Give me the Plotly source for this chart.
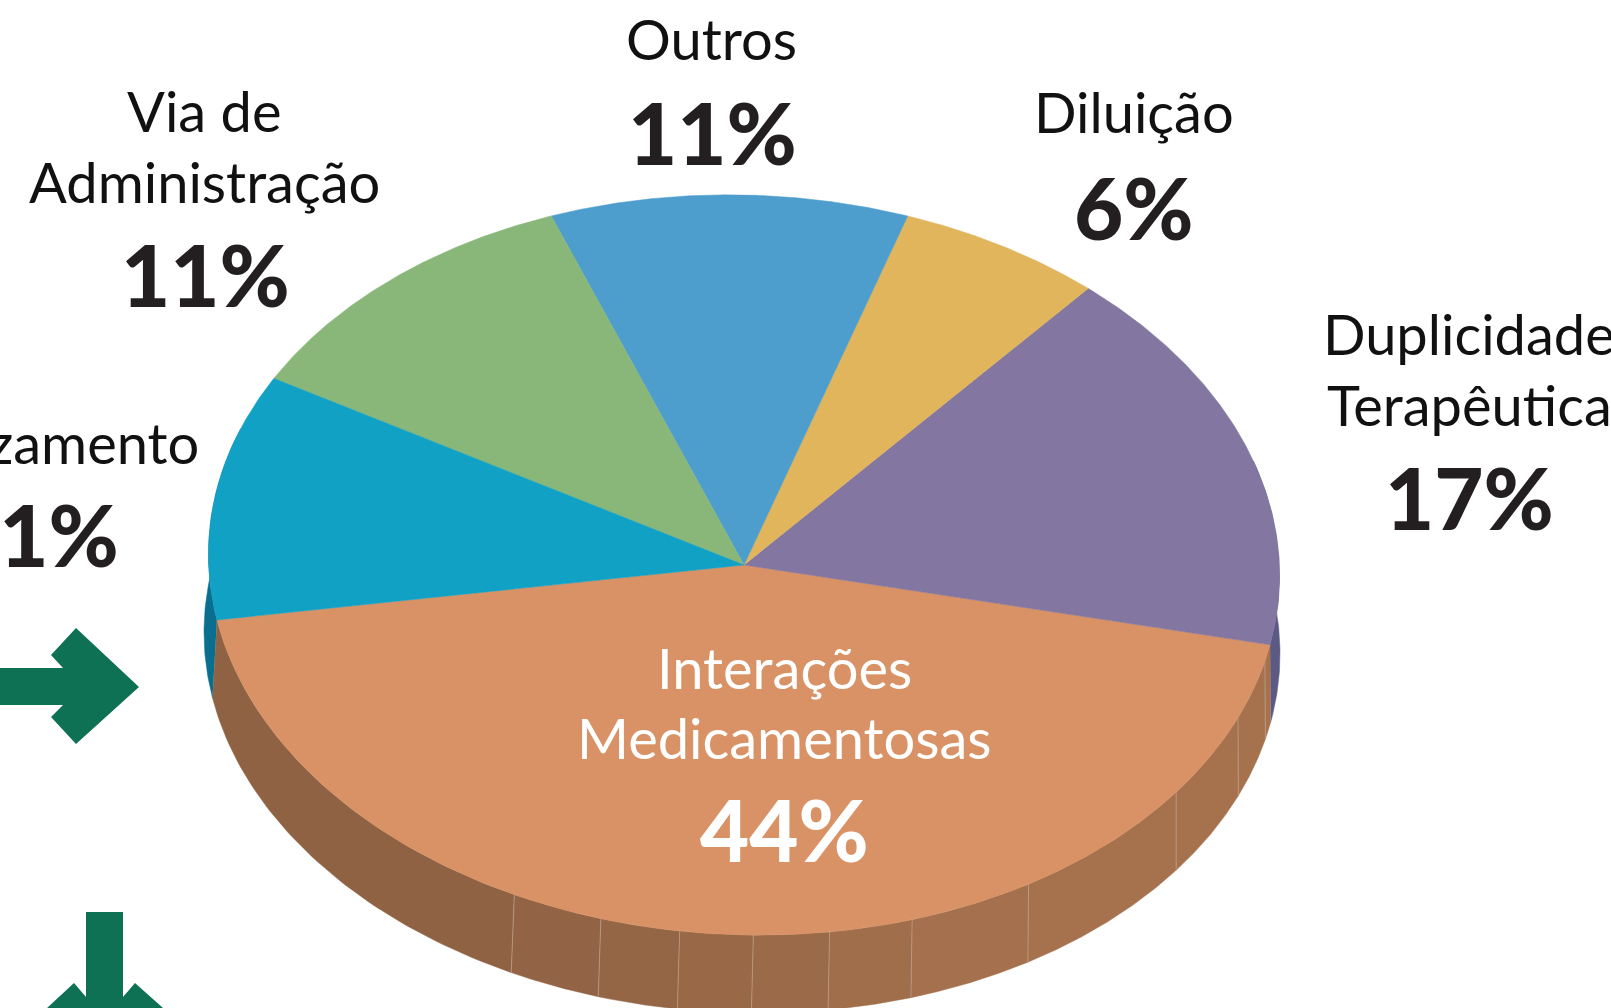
import numpy as np
import plotly.graph_objects as go

# Data
categories = ["Interações Medicamentosas", "Duplicidade Terapêutica", "Diluição", "Outros",
              "Via de Administração", "Aprazamento"]
values = [44, 17, 6, 11, 11, 11]
label_lines = [["Interações", "Medicamentosas"], ["Duplicidade", "Terapêutica"], ["Diluição"], ["Outros"],
               ["Via de", "Administração"], ["Aprazamento"]]
slice_colors = ["#D99265", "#8376A0", "#E0B55B", "#4D9DCD", "#88B779", "#11A1C5"]

# Drawing geometry: a tilted, flattened disc seen in perspective
W, H = 1611, 1008
CX, CY, RX, RY, SHEAR = 744, 565, 535.5, 370, 0.02
BX, BY, BRX, BRY = 742, 643, 538, 370
START_ANGLE = 190.2
perspective_adjust = [0, 0.6, 0.2, 0.8, 0.1, 0.8, 0]

wall_angles = [244.6, 254.5, 263.1, 271, 279.2, 288.3, 302.1, 323.8, 337.3, 346.6]
wall_colors = ["#8F6244", "#926445", "#956646", "#986847", "#9B6A48", "#A16E4B", "#A4704D", "#A6724E", "#A6724E",
               "#A6724E", "#A6724E"]
side_colors = {"left": "#0A6F8F", "right": "#5B5A85"}


def top(t):
    t = np.radians(t)
    return CX + RX * np.cos(t), CY - RY * np.sin(t) + SHEAR * RX * np.cos(t)


def bottom(t):
    t = np.radians(t)
    return BX + BRX * np.cos(t), BY - BRY * np.sin(t) + SHEAR * BRX * np.cos(t)


def wall(t0, t1, color):
    ts = np.linspace(t0, t1, 60)
    xt, yt = top(ts)
    xb, yb = bottom(ts[::-1])
    return go.Scatter(x=np.r_[xt, xb], y=np.r_[yt, yb], mode="lines", fill="toself", fillcolor=color,
                      line=dict(color=color, width=0.5), hoverinfo="skip", showlegend=False)


fig = go.Figure()

# Side walls
sweeps = np.array(values) / sum(values) * 360
boundaries = START_ANGLE + np.r_[0, np.cumsum(sweeps)] + np.array(perspective_adjust)
end_main = boundaries[1]
fig.add_trace(wall(160, START_ANGLE, side_colors["left"]))
fig.add_trace(wall(end_main, 378, side_colors["right"]))
edges = [START_ANGLE] + wall_angles + [end_main]
for a, b, c in zip(edges[:-1], edges[1:], wall_colors):
    fig.add_trace(wall(a, b, c))
for a in wall_angles:
    x0, y0 = top(a)
    x1, y1 = bottom(a)
    fig.add_trace(go.Scatter(x=[x0, x1], y=[y0, y1], mode="lines", line=dict(color="#BB9C86", width=0.8),
                             hoverinfo="skip", showlegend=False))

# Slices
for i, (name, color) in enumerate(zip(categories, slice_colors)):
    ts = np.linspace(boundaries[i], boundaries[i + 1], 160)
    xs, ys = top(ts)
    fig.add_trace(go.Scatter(x=np.r_[CX, xs, CX], y=np.r_[CY, ys, CY], mode="lines", fill="toself",
                             fillcolor=color, line=dict(color=color, width=0.5), name=name,
                             hovertemplate=f"{name}: {values[i]}%<extra></extra>", showlegend=False))

# Arrows
arrow_color = "#0E7153"
arrow_right = "M-5,668 L63,668 L51,655 L76,628 L139,687 L76,744 L51,717 L63,705 L-5,705 Z"
arrow_down = "M86,912 L123,912 L123,997 L135,983 L163,1008 L104.5,1070 L47,1008 L74,983 L86,997 Z"
shapes = [dict(type="path", path=p, xref="x", yref="y", fillcolor=arrow_color, line=dict(width=0), layer="above")
          for p in (arrow_right, arrow_down)]

# Texts
FONT = "Lato"
INK = "#111111"
PCT = "#231F20"
LABEL_SIZE = 56
PCT_SIZE = 85
placements = [
    dict(x=784, ys=[667, 737], py=829, color="#FFFFFF", pcolor="#FFFFFF", anchor="center", px=784),
    dict(x=1469, ys=[333, 404], py=497, color=INK, pcolor=PCT, anchor="center", px=1469),
    dict(x=1134, ys=[111], py=207, color=INK, pcolor=PCT, anchor="center", px=1134),
    dict(x=711, ys=[38], py=132, color=INK, pcolor=PCT, anchor="center", px=712),
    dict(x=204, ys=[110, 181], py=274, color=INK, pcolor=PCT, anchor="center", px=205),
    dict(x=201, ys=[442], py=534, color=INK, pcolor=PCT, anchor="right", px=121),
]
annotations = []
for lines, val, p in zip(label_lines, values, placements):
    for line, y in zip(lines, p["ys"]):
        annotations.append(dict(x=p["x"], y=y, text=line, showarrow=False, xanchor=p["anchor"], yanchor="middle",
                                font=dict(family=FONT, size=LABEL_SIZE, color=p["color"])))
    annotations.append(dict(x=p["px"], y=p["py"], text=f"{val}%", showarrow=False, xanchor=p["anchor"],
                            yanchor="middle", font=dict(family=FONT, size=PCT_SIZE, color=p["pcolor"], weight=900)))

fig.update_layout(
    width=W, height=H, autosize=False,
    margin=dict(l=0, r=0, t=0, b=0),
    paper_bgcolor="white", plot_bgcolor="white",
    xaxis=dict(range=[0, W], visible=False, fixedrange=True),
    yaxis=dict(range=[H, 0], visible=False, fixedrange=True),
    shapes=shapes, annotations=annotations, showlegend=False,
)
fig.write_html("out.html", config={"displayModeBar": False},
               post_script="document.body.style.margin='0';document.body.style.overflow='hidden';")
